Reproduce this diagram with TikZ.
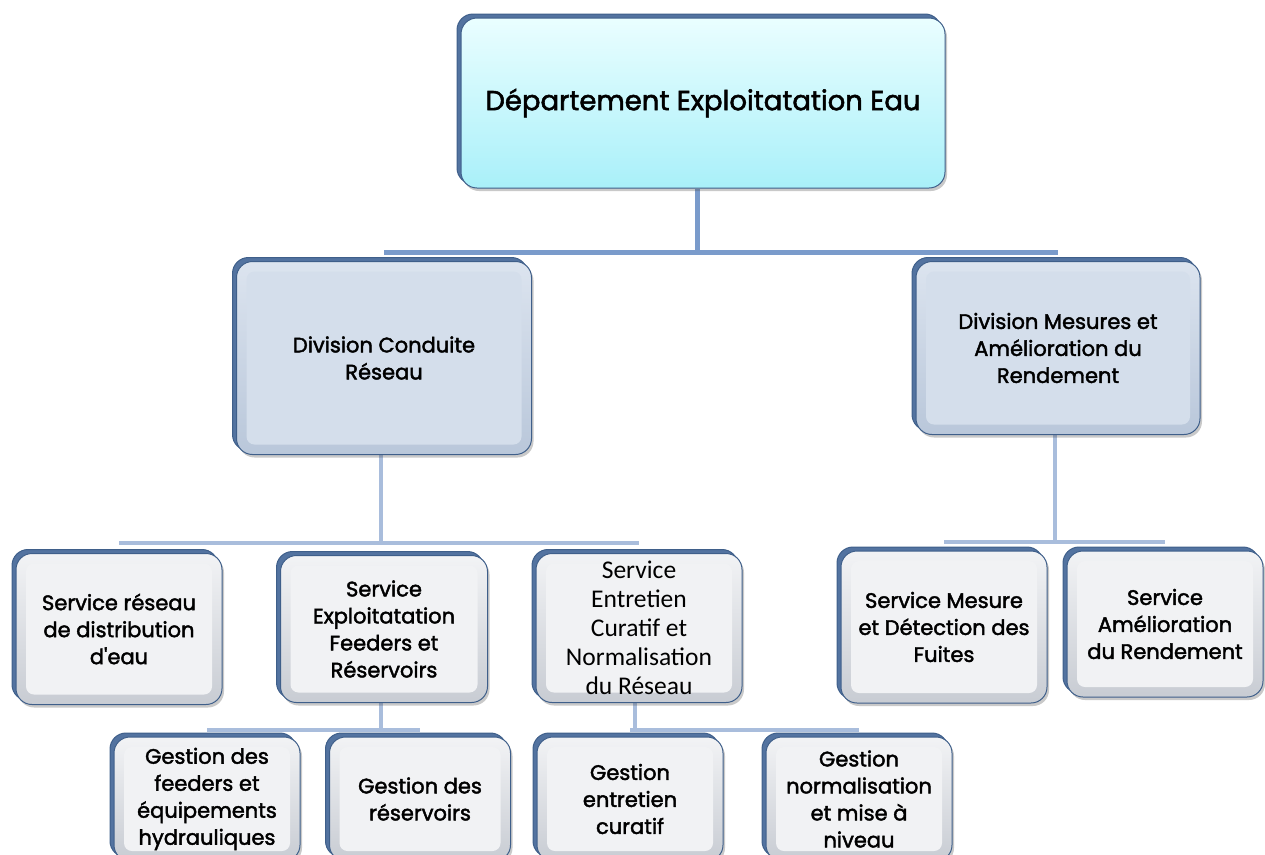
\documentclass[tikz,border=0pt]{standalone}
\usepackage{fontspec}
\setmainfont{Poppins}[Ligatures=TeXOff, FakeBold=2]
\newfontfamily\calib{Carlito}
\usetikzlibrary{shadows,calc}
\pgfdeclarelayer{background}
\pgfsetlayers{background,main}
\definecolor{edge}{HTML}{3F5F8A}
\definecolor{backp}{HTML}{5373A0}
\definecolor{connA}{HTML}{7A9BCB}
\definecolor{connB}{HTML}{A9BDDC}
\definecolor{topA}{HTML}{EAFEFF}
\definecolor{topB}{HTML}{A9F0F9}
\definecolor{divA}{HTML}{DCE4EF}
\definecolor{divB}{HTML}{B9C7DA}
\definecolor{divIn}{HTML}{D4DEEB}
\definecolor{svcA}{HTML}{F2F3F5}
\definecolor{svcB}{HTML}{C8CCD3}
\definecolor{svcIn}{HTML}{F1F2F4}
\tikzset{
  face/.style={rounded corners=16pt, draw=edge, line width=1pt, align=center, inner sep=0pt, text=black,
    drop shadow={shadow xshift=2pt, shadow yshift=-3pt, opacity=0.3, fill=black!70},
    preaction={fill=backp, draw=edge, line width=1pt, transform canvas={shift={(-4pt,4pt)}}}},
  bevel/.style={path picture={\fill[#1, rounded corners=8pt]
      ([shift={(10pt,10pt)}]path picture bounding box.south west) rectangle
      ([shift={(-10pt,-10pt)}]path picture bounding box.north east);}},
  topbox/.style={face, top color=topA, bottom color=topB, font=\fontsize{27.5}{31}\selectfont},
  divbox/.style={face, top color=divA, bottom color=divB, bevel=divIn, font=\fontsize{21}{27}\selectfont},
  svcbox/.style={face, top color=svcA, bottom color=svcB, bevel=svcIn, font=\fontsize{21}{27}\selectfont},
  calbox/.style={face, top color=svcA, bottom color=svcB, bevel=svcIn, font=\calib\fontsize{25.5}{29}\selectfont},
  linkA/.style={draw=connA, line width=5pt},
  linkB/.style={draw=connB, line width=4.5pt},
}
\begin{document}
\begin{tikzpicture}[x=1pt,y=-1pt]
\useasboundingbox (0,0) rectangle (1265,854);
\clip (0,0) rectangle (1265,854);
% level 1
\node[topbox, minimum width=484pt, minimum height=170pt] (dep) at (703,103) {Département Exploitatation Eau};
% level 2
\node[divbox, minimum width=295pt, minimum height=193pt] (dc) at (384,358) {Division Conduite\\Réseau};
\node[divbox, minimum width=284pt, minimum height=173pt] (dm) at (1058,348) {Division Mesures et\\Amélioration du\\Rendement};
% level 3
\node[svcbox, minimum width=206pt, minimum height=151pt] (s1) at (119,629) {Service réseau\\de distribution\\d'eau};
\node[svcbox, minimum width=207pt, minimum height=147pt] (s2) at (384,629) {Service\\Exploitatation\\Feeders et\\Réservoirs};
\node[calbox, minimum width=206pt, minimum height=149pt] (s3) at (639,628) {Service\\Entretien\\Curatif et\\Normalisation\\du Réseau};
\node[svcbox, minimum width=206pt, minimum height=152pt] (s4) at (944,627) {Service Mesure\\et Détection des\\Fuites};
\node[svcbox, minimum width=196pt, minimum height=146pt] (s5) at (1165,624) {Service\\Amélioration\\du Rendement};
% level 4
\node[svcbox, minimum width=186pt, minimum height=124pt] (g1) at (207,799) {Gestion des\\feeders et\\équipements\\hydrauliques};
\node[svcbox, minimum width=181pt, minimum height=124pt] (g2) at (420,799) {Gestion des\\réservoirs};
\node[svcbox, minimum width=186pt, minimum height=124pt] (g3) at (630,799) {Gestion\\entretien\\curatif};
\node[svcbox, minimum width=186pt, minimum height=124pt] (g4) at (859,799) {Gestion\\normalisation\\et mise à\\niveau};
% connectors
\coordinate (b1) at (697,252);
\coordinate (b2) at (381,543);
\coordinate (b3) at (1055,542);
\coordinate (b4) at (381,730);
\coordinate (b5) at (635,730);
\begin{pgfonlayer}{background}
\draw[linkA] (dep.south -| b1) -- (b1);
\draw[linkA] (dc.north |- b1) -- (dm.north |- b1);
\draw[linkB] (dc.south -| b2) -- (b2);
\draw[linkB] (s1.north |- b2) -- (s3.north |- b2);
\draw[linkB] (dm.south -| b3) -- (b3);
\draw[linkB] (s4.north |- b3) -- (s5.north |- b3);
\draw[linkB] (s2.south -| b4) -- (b4);
\draw[linkB] (g1.north |- b4) -- (g2.north |- b4);
\draw[linkB] (s3.south -| b5) -- (b5);
\draw[linkB] (g3.north |- b5) -- (g4.north |- b5);
\end{pgfonlayer}
\end{tikzpicture}
\end{document}
